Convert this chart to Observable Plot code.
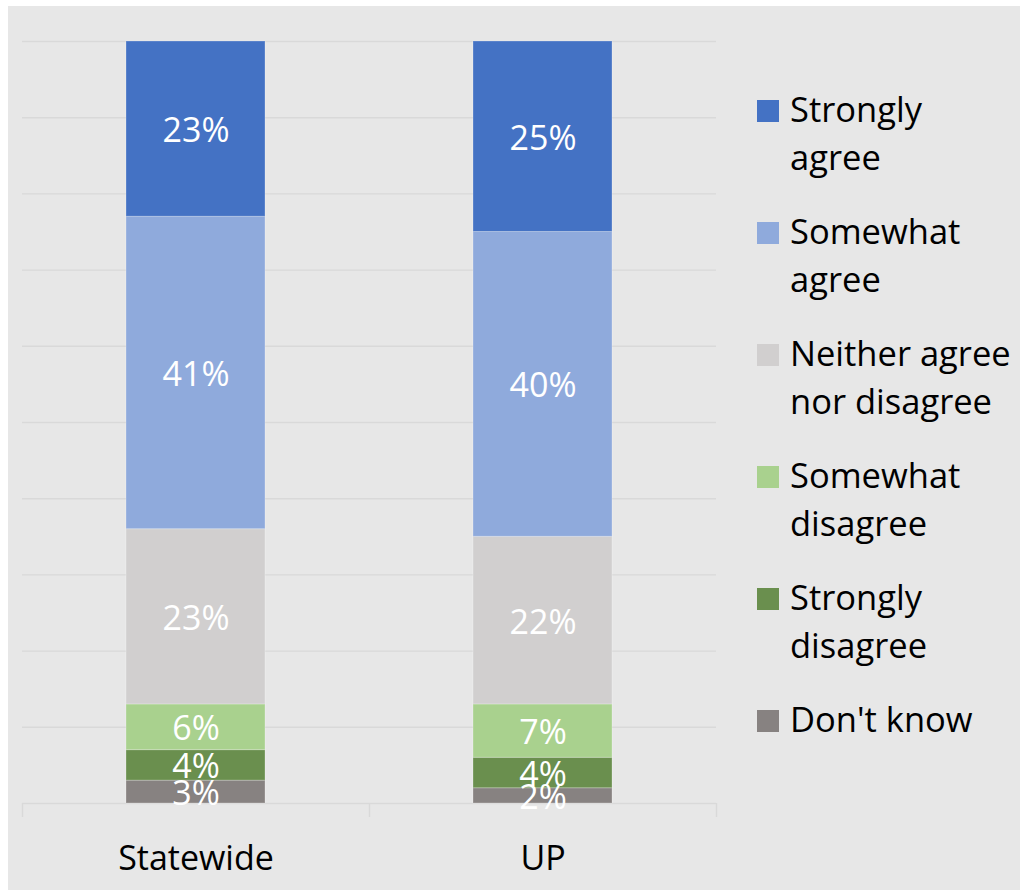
<!DOCTYPE html>
<html>
<head>
<meta charset="utf-8">
<script src="https://cdn.jsdelivr.net/npm/d3@7"></script>
<script src="https://cdn.jsdelivr.net/npm/@observablehq/plot@0.6"></script>
<style>
  html, body { margin: 0; padding: 0; background: #ffffff; }
  #wrap { position: absolute; left: 8px; top: 6px; width: 1012px; height: 884px; background: #e7e7e7; overflow: hidden; font-family: "Open Sans", sans-serif; }
  #chart { position: absolute; left: 0; top: 0; }
  #legend { position: absolute; left: 749px; top: 0; width: 263px; height: 884px; }
  .item { position: absolute; left: 0; display: flex; align-items: flex-start; }
  .sw { width: 22px; height: 22px; margin-top: 15px; margin-right: 11px; flex: none; }
  .lab { font-size: 34.5px; line-height: 48px; color: #000; white-space: pre; }
</style>
</head>
<body>
<div id="wrap"><div id="chart"></div><div id="legend"></div></div>
<script>
// Categories (x axis)
const categories = ["Statewide", "UP"];
// Responses, bottom of stack to top
const responses = ["Don't know", "Strongly disagree", "Somewhat disagree", "Neither agree nor disagree", "Somewhat agree", "Strongly agree"];
const colors = ["#878281", "#6a8f4e", "#a9d18e", "#d1cfcf", "#8faadc", "#4472c4"];
// Values (percent), in the order of responses
const statewide = [3, 4, 6, 23, 41, 23];
const up = [2, 4, 7, 22, 40, 25];
// Legend labels, top to bottom, as wrapped in the reference
const legendOrder = ["Strongly agree", "Somewhat agree", "Neither agree nor disagree", "Somewhat disagree", "Strongly disagree", "Don't know"];
const legendLabels = ["Strongly\nagree", "Somewhat\nagree", "Neither agree\nnor disagree", "Somewhat\ndisagree", "Strongly\ndisagree", "Don't know"];

const series = [statewide, up];
const data = [];
categories.forEach((c, ci) => {
  responses.forEach((r, ri) => data.push({cat: c, resp: r, value: series[ci][ri]}));
});

const W = 740, H = 884, ML = 14, MR = 32, MT = 35, MB = 87;
const step = (W - ML - MR) / categories.length;
const lineColor = "#d9d9d9";

const chart = Plot.plot({
  width: W, height: H,
  marginLeft: ML, marginRight: MR, marginTop: MT, marginBottom: MB,
  style: {background: "transparent", fontFamily: "Open Sans, sans-serif", fontSize: "34px", color: "#000"},
  x: {domain: categories, paddingInner: 0.6, paddingOuter: 0.3, axis: null, label: null},
  y: {domain: [0, 100], axis: null},
  color: {domain: responses, range: colors},
  marks: [
    Plot.gridY({ticks: 10, stroke: lineColor, strokeOpacity: 1, strokeWidth: 1.4}),
    Plot.ruleX(categories, {x: d => d, dx: -step / 2, y1: 0, y2: 0, insetBottom: -14, stroke: lineColor, strokeWidth: 1.4}),
    Plot.ruleX(categories.slice(-1), {x: d => d, dx: step / 2, y1: 0, y2: 0, insetBottom: -14, stroke: lineColor, strokeWidth: 1.4}),
    Plot.barY(data, Plot.stackY({x: "cat", y: "value", z: "resp", fill: "resp", order: responses, stroke: "#ffffff", strokeOpacity: 0.25, strokeWidth: 1})),
    Plot.text(data, Plot.stackY({x: "cat", y: "value", z: "resp", order: responses, text: d => d.value + "%", fill: "#ffffff", fontSize: 34, dy: 2})),
    Plot.axisX({tickSize: 0, tickPadding: 42, fontSize: 34, fill: "#000", label: null})
  ]
});
document.getElementById("chart").appendChild(chart);

const legend = document.getElementById("legend");
legendOrder.forEach((r, i) => {
  const item = document.createElement("div");
  item.className = "item";
  item.style.top = (79 + i * 122) + "px";
  const sw = document.createElement("div");
  sw.className = "sw";
  sw.style.background = colors[responses.indexOf(r)];
  const lab = document.createElement("div");
  lab.className = "lab";
  lab.textContent = legendLabels[i];
  item.appendChild(sw);
  item.appendChild(lab);
  legend.appendChild(item);
});
</script>
</body>
</html>
